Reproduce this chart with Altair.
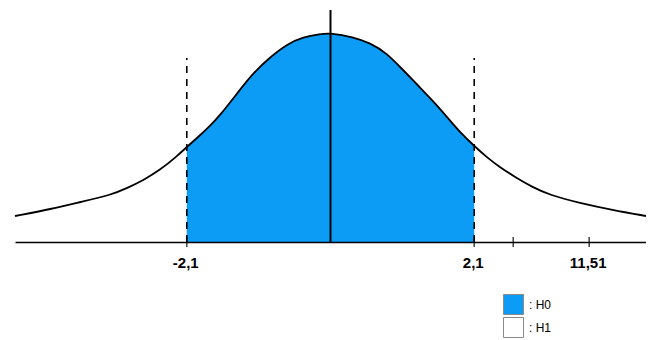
import altair as alt
import pandas as pd

# curve (x in axis units, y = height of the curve)
curve_x = [-4.61, -4.08, -3.65, -3.21, -2.97, -2.73, -2.49, -2.24, -2.10, -1.95, -1.76,
           -1.61, -1.36, -1.13, -0.88, -0.63, -0.40, -0.15, 0.0,
           0.33, 0.58, 0.82, 1.06, 1.30, 1.54, 1.74, 1.89, 2.10, 2.28, 2.47,
           2.72, 2.95, 3.20, 3.64, 4.12, 4.61]
curve_y = [26, 33, 40, 47, 54, 62, 72, 86, 95, 104, 116,
           127, 149, 169, 185, 198, 205, 208, 209,
           205, 199, 189, 172, 155, 138, 122, 110, 96, 85, 75,
           64, 55, 47, 39, 32, 26]

crit_x = [-2.1, 2.1]          # critical values (dashed lines)
crit_top = 184                 # height of the dashed lines
center_top = 232               # height of the central vertical line
tick_x = [-2.1, 2.1, 2.67, 3.78]
label_x = [-2.1, 2.1, 3.78]
label_text = ["-2,1", "2,1", "11,51"]
legend_items = [": H0", ": H1"]
legend_colors = ["#0C9CF6", "#FFFFFF"]

X_DOM = [-4.61, 4.61]
Y_DOM = [0, 232]

curve = pd.DataFrame({"x": curve_x, "y": curve_y})
curve["hyp"] = ": H0"

xs = alt.Scale(domain=X_DOM, nice=False, zero=False)
ys = alt.Scale(domain=Y_DOM, nice=False, zero=True)

xaxis = alt.Axis(title=None, labels=False, ticks=False, grid=False, domain=True,
                 domainColor="black", domainWidth=1.5, zindex=1)

area = alt.Chart(curve).mark_area(interpolate="basis").encode(
    x=alt.X("x:Q", scale=xs, axis=xaxis),
    y=alt.Y("y:Q", scale=ys, axis=None),
    color=alt.Color("hyp:N",
                    scale=alt.Scale(domain=legend_items, range=legend_colors),
                    legend=alt.Legend(title=None, orient="none", legendX=488, legendY=284,
                                      symbolType="square", symbolSize=400,
                                      symbolStrokeColor="#8a8a8a", symbolStrokeWidth=1,
                                      labelFont="Liberation Sans", labelFontSize=12,
                                      labelColor="black", labelOffset=5, rowPadding=-2,
                                      padding=0)),
)

# white out the region outside the acceptance interval
outside = pd.DataFrame({"x0": [X_DOM[0], crit_x[1]], "x1": [crit_x[0], X_DOM[1]],
                        "y0": [Y_DOM[0]] * 2, "y1": [Y_DOM[1]] * 2})
mask = alt.Chart(outside).mark_rect(color="white").encode(
    x=alt.X("x0:Q", scale=xs), x2="x1:Q",
    y=alt.Y("y0:Q", scale=ys), y2="y1:Q",
)

line = alt.Chart(curve).mark_line(interpolate="basis", color="black", strokeWidth=1.8).encode(
    x=alt.X("x:Q", scale=xs),
    y=alt.Y("y:Q", scale=ys),
)

dashed = alt.Chart(pd.DataFrame({"x": crit_x, "y0": [0, 0], "y1": [crit_top] * 2})).mark_rule(
    color="black", strokeWidth=1.6, strokeDash=[7, 6]
).encode(
    x=alt.X("x:Q", scale=xs),
    y=alt.Y("y0:Q", scale=ys),
    y2="y1:Q",
)

center = alt.Chart(pd.DataFrame({"x": [0.0], "y0": [0], "y1": [center_top]})).mark_rule(
    color="black", strokeWidth=2
).encode(
    x=alt.X("x:Q", scale=xs),
    y=alt.Y("y0:Q", scale=ys),
    y2="y1:Q",
)

ticks = alt.Chart(pd.DataFrame({"x": tick_x, "y": [0] * len(tick_x)})).mark_tick(
    orient="vertical", color="black", size=10, thickness=1.6
).encode(
    x=alt.X("x:Q", scale=xs),
    y=alt.Y("y:Q", scale=ys),
)

labels = alt.Chart(pd.DataFrame({"x": label_x, "y": [0] * len(label_x), "t": label_text})).mark_text(
    font="Liberation Sans", fontSize=15, fontWeight="bold", color="black",
    baseline="middle", dy=21, dx=-1
).encode(
    x=alt.X("x:Q", scale=xs),
    y=alt.Y("y:Q", scale=ys),
    text="t:N",
)

chart = alt.layer(area, mask, dashed, center, line, ticks, labels).properties(
    width=631, height=232,
    autosize=alt.AutoSizeParams(type="none"),
    padding={"left": 7, "right": 0, "top": 2, "bottom": 96},
).configure_view(stroke=None)

chart.save("out.html", embed_options={"renderer": "svg", "actions": False})
